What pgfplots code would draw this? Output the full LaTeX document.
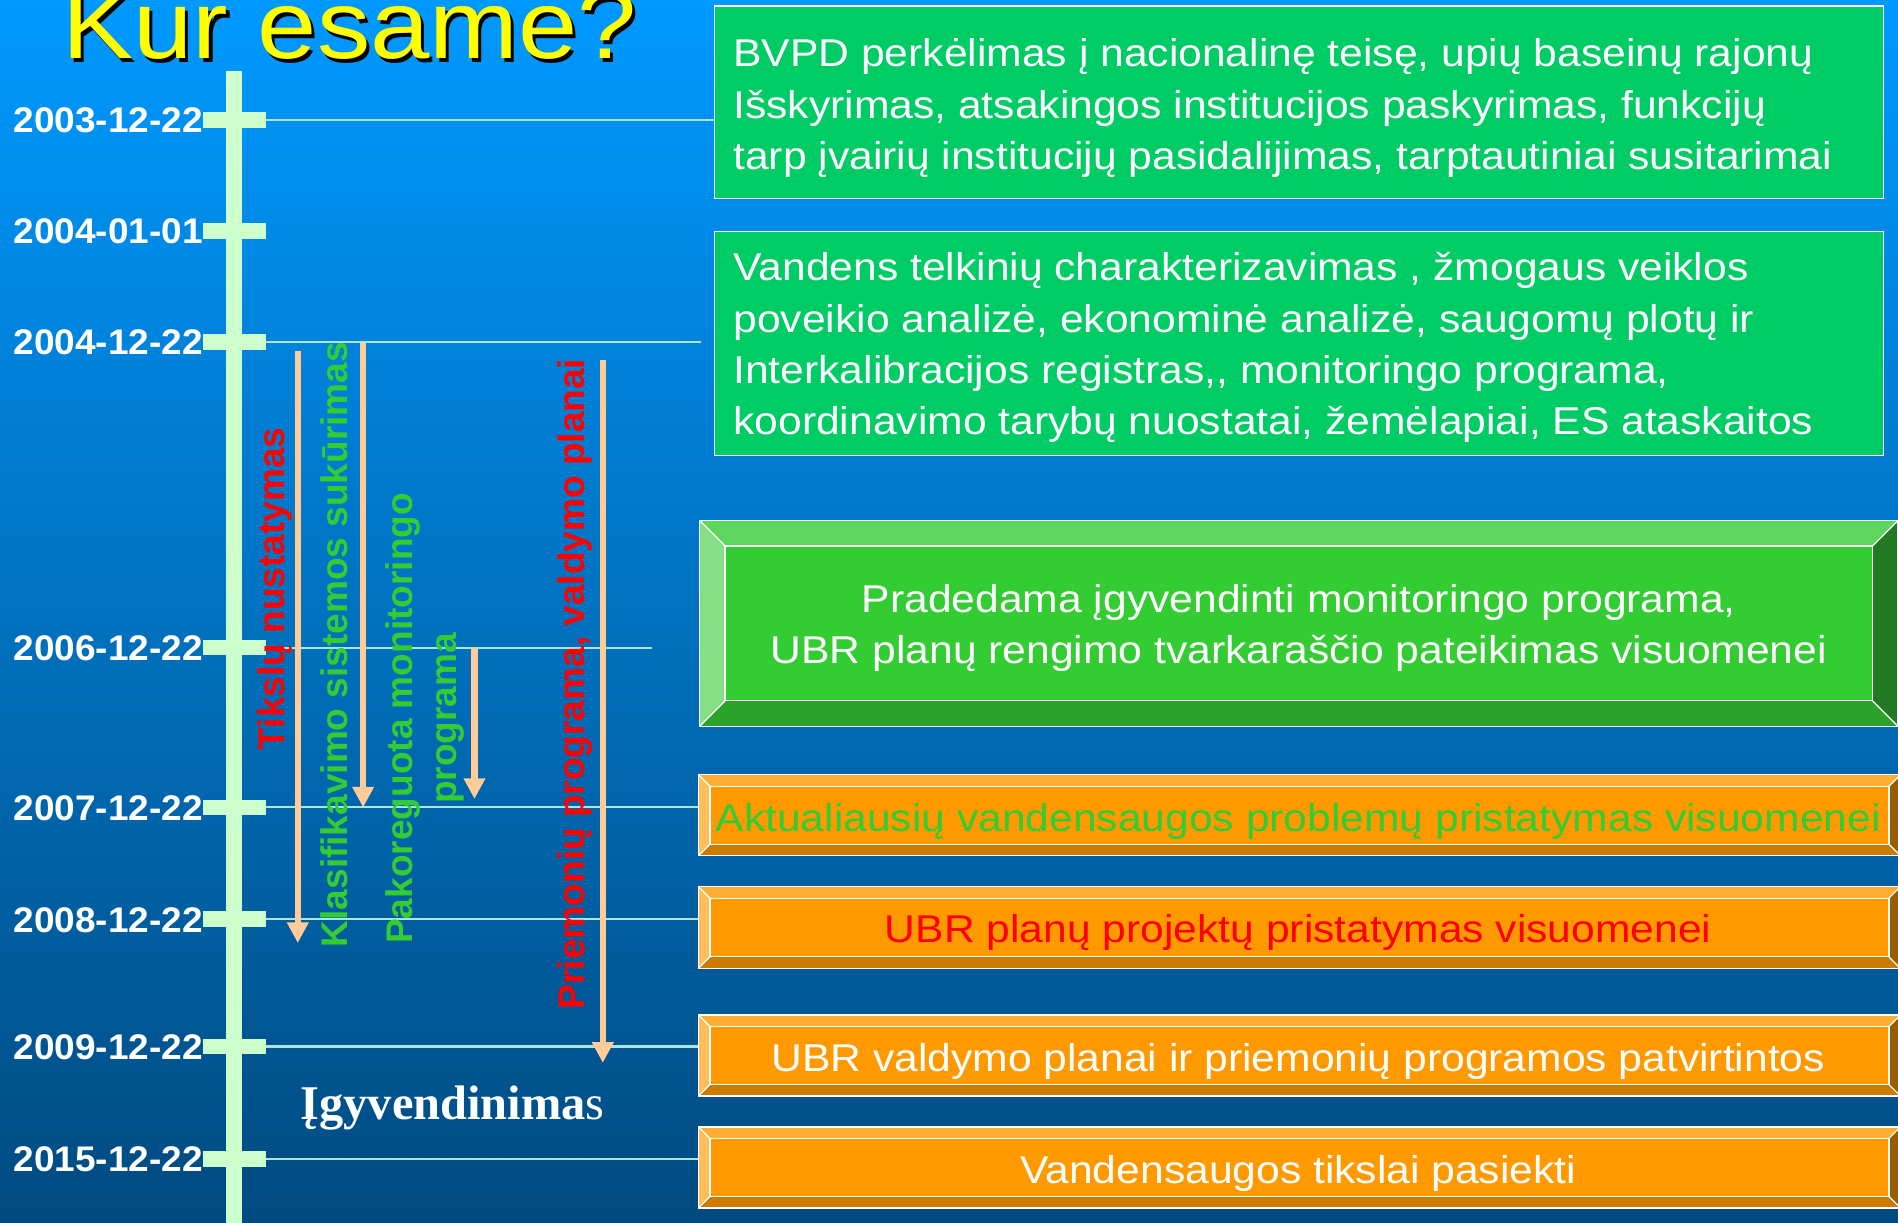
\documentclass[border=0pt]{standalone}
\usepackage{fontspec}
\setmainfont{Liberation Sans}
\newfontfamily\seriffont{Liberation Serif}
\usepackage{graphicx}
\usepackage{pgfplots}
\pgfplotsset{compat=1.18}
\usetikzlibrary{arrows.meta}
\definecolor{bgtop}{RGB}{0,153,255}
\definecolor{bgbot}{RGB}{0,74,128}
\definecolor{tickg}{RGB}{204,255,204}
\definecolor{peach}{RGB}{255,204,153}
\definecolor{linec}{RGB}{170,230,220}
\definecolor{boxg}{RGB}{0,204,102}
\definecolor{grn}{RGB}{51,204,51}
\definecolor{grnt}{RGB}{92,214,92}
\definecolor{grnl}{RGB}{133,224,133}
\definecolor{grnb}{RGB}{43,163,43}
\definecolor{grnr}{RGB}{33,122,33}
\definecolor{org}{RGB}{255,153,0}
\definecolor{orgt}{RGB}{255,173,51}
\definecolor{orgl}{RGB}{255,190,90}
\definecolor{orgb}{RGB}{204,122,0}
\definecolor{orgr}{RGB}{153,92,0}
\definecolor{txtgreen}{RGB}{51,204,51}
\definecolor{txtred}{RGB}{255,0,0}
\definecolor{titley}{RGB}{255,255,0}
\newcommand{\sx}[1]{\scalebox{1.1}[1]{#1}}
\newcommand{\datefont}{\fontsize{14.7}{17}\selectfont\bfseries}
\newcommand{\boxfont}{\fontsize{16}{20}\selectfont}
\newcommand{\rotfont}{\fontsize{15.3}{18}\selectfont\bfseries}
\newcommand{\titlefont}{\fontsize{40}{48}\selectfont}
\newcommand{\bevelbox}[9]{%
 \fill[#9] (#5,#6) rectangle (#7,#8);
 \fill[#9t] (#1,#2) -- (#3,#2) -- (#7,#6) -- (#5,#6) -- cycle;
 \fill[#9b] (#1,#4) -- (#3,#4) -- (#7,#8) -- (#5,#8) -- cycle;
 \fill[#9l] (#1,#2) -- (#5,#6) -- (#5,#8) -- (#1,#4) -- cycle;
 \fill[#9r] (#3,#2) -- (#7,#6) -- (#7,#8) -- (#3,#4) -- cycle;
 \draw[white, line width=0.5pt] (#1,#2) rectangle (#3,#4);
 \draw[white, line width=0.5pt] (#5,#6) rectangle (#7,#8);
 \draw[white, line width=0.5pt] (#1,#2) -- (#5,#6) (#3,#2) -- (#7,#6) (#1,#4) -- (#5,#8) (#3,#4) -- (#7,#8);
}
\begin{document}
\begin{tikzpicture}
\begin{axis}[
  width=784pt, height=505pt, scale only axis,
  xmin=0, xmax=1568, ymin=0, ymax=1010, y dir=reverse,
  hide axis, clip=true, clip bounding box=upper bound,
]
% background
\fill[top color=bgtop, bottom color=bgbot] (0,0) rectangle (1568,1010);

% connector lines
\addplot[linec, line width=0.9pt] coordinates {(220,99) (590,99)};
\addplot[linec, line width=0.9pt] coordinates {(220,282.5) (579,282.5)};
\addplot[linec, line width=0.9pt] coordinates {(220,535) (538.5,535)};
\addplot[linec, line width=0.9pt] coordinates {(220,667) (577,667)};
\addplot[linec, line width=0.9pt] coordinates {(220,759.5) (577,759.5)};
\addplot[linec, line width=0.9pt] coordinates {(220,864.5) (577,864.5)};
\addplot[linec, line width=0.9pt] coordinates {(220,957.5) (577,957.5)};

% timeline bar and ticks
\addplot[tickg, line width=6.65pt] coordinates {(193.6,58.7) (193.6,1015)};
\addplot[tickg, line width=6.5pt] coordinates {(168,99) (220,99)};
\addplot[tickg, line width=6.5pt] coordinates {(168,191) (220,191)};
\addplot[tickg, line width=6.5pt] coordinates {(168,282.5) (220,282.5)};
\addplot[tickg, line width=6.5pt] coordinates {(168,535) (220,535)};
\addplot[tickg, line width=6.5pt] coordinates {(168,667) (220,667)};
\addplot[tickg, line width=6.5pt] coordinates {(168,759.5) (220,759.5)};
\addplot[tickg, line width=6.5pt] coordinates {(168,864.5) (220,864.5)};
\addplot[tickg, line width=6.5pt] coordinates {(168,957.5) (220,957.5)};

% date labels
\node[anchor=base east, inner sep=0, white, font=\datefont] at (168,109.5) {\scalebox{1.04}[1]{2003-12-22}};
\node[anchor=base east, inner sep=0, white, font=\datefont] at (168,201.5) {\scalebox{1.04}[1]{2004-01-01}};
\node[anchor=base east, inner sep=0, white, font=\datefont] at (168,293) {\scalebox{1.04}[1]{2004-12-22}};
\node[anchor=base east, inner sep=0, white, font=\datefont] at (168,545.5) {\scalebox{1.04}[1]{2006-12-22}};
\node[anchor=base east, inner sep=0, white, font=\datefont] at (168,677.5) {\scalebox{1.04}[1]{2007-12-22}};
\node[anchor=base east, inner sep=0, white, font=\datefont] at (168,770) {\scalebox{1.04}[1]{2008-12-22}};
\node[anchor=base east, inner sep=0, white, font=\datefont] at (168,875) {\scalebox{1.04}[1]{2009-12-22}};
\node[anchor=base east, inner sep=0, white, font=\datefont] at (168,968) {\scalebox{1.04}[1]{2015-12-22}};

% plain green boxes
\filldraw[fill=boxg, draw=white, line width=0.5pt] (590,5) rectangle (1556,164);
\filldraw[fill=boxg, draw=white, line width=0.5pt] (590,191) rectangle (1556,376);
\node[anchor=base west, inner sep=0, white, font=\boxfont] at (605.5,55) {\sx{BVPD perkėlimas į nacionalinę teisę, upių baseinų rajonų}};
\node[anchor=base west, inner sep=0, white, font=\boxfont] at (605.5,97.5) {\sx{Išskyrimas, atsakingos institucijos paskyrimas, funkcijų}};
\node[anchor=base west, inner sep=0, white, font=\boxfont] at (605.5,140) {\sx{tarp įvairių institucijų pasidalijimas, tarptautiniai susitarimai}};
\node[anchor=base west, inner sep=0, white, font=\boxfont] at (605.5,232) {\sx{Vandens telkinių charakterizavimas , žmogaus veiklos}};
\node[anchor=base west, inner sep=0, white, font=\boxfont] at (605.5,274.5) {\sx{poveikio analizė, ekonominė analizė, saugomų plotų ir}};
\node[anchor=base west, inner sep=0, white, font=\boxfont] at (605.5,317) {\sx{Interkalibracijos registras,{},{} monitoringo programa,}};
\node[anchor=base west, inner sep=0, white, font=\boxfont] at (605.5,359) {\sx{koordinavimo tarybų nuostatai, žemėlapiai, ES ataskaitos}};

% bevelled boxes
\bevelbox{578}{430}{1568}{600}{599}{451}{1547}{579}{grn}
\bevelbox{577}{640}{1570}{707}{586.5}{649.5}{1560.5}{697.5}{org}
\bevelbox{577}{732.5}{1570}{800}{586.5}{742}{1560.5}{790.5}{org}
\bevelbox{577}{838.5}{1570}{905.5}{586.5}{848}{1560.5}{896}{org}
\bevelbox{577}{931}{1570}{998}{586.5}{940.5}{1560.5}{988.5}{org}
\node[anchor=base, inner sep=0, white, font=\boxfont] at (1073,506) {\sx{Pradedama įgyvendinti monitoringo programa,}};
\node[anchor=base, inner sep=0, white, font=\boxfont] at (1073,548) {\sx{UBR planų rengimo tvarkaraščio pateikimas visuomenei}};
\node[anchor=base, inner sep=0, txtgreen, font=\boxfont] at (1072.5,687) {\sx{Aktualiausių vandensaugos problemų pristatymas visuomenei}};
\node[anchor=base, inner sep=0, txtred, font=\boxfont] at (1072.5,779) {\sx{UBR planų projektų pristatymas visuomenei}};
\node[anchor=base, inner sep=0, white, font=\boxfont] at (1072.5,885) {\sx{UBR valdymo planai ir priemonių programos patvirtintos}};
\node[anchor=base, inner sep=0, white, font=\boxfont] at (1072.5,977.5) {\sx{Vandensaugos tikslai pasiekti}};

% vertical labels
\node[rotate=90, anchor=base, inner sep=0, txtred, font=\rotfont] at (235,486.5) {Tikslų nustatymas};
\node[rotate=90, anchor=base, inner sep=0, txtgreen, font=\rotfont] at (287,532.5) {Klasifikavimo sistemos sukūrimas};
\node[rotate=90, anchor=base, inner sep=0, txtgreen, font=\rotfont] at (341,593.5) {Pakoreguota monitoringo};
\node[rotate=90, anchor=base, inner sep=0, txtgreen, font=\rotfont] at (377,593.5) {programa};
\node[rotate=90, anchor=base, inner sep=0, txtred, font=\rotfont] at (483,565) {Priemonių programa, valdymo planai};

% arrows
\addplot[peach, line width=2.5pt, -{Triangle[width=8.5pt,length=8.5pt]}] coordinates {(246,290) (246,779)};
\addplot[peach, line width=2.5pt, -{Triangle[width=8.5pt,length=8.5pt]}] coordinates {(300,283) (300,667)};
\addplot[peach, line width=2.5pt, -{Triangle[width=8.5pt,length=8.5pt]}] coordinates {(392,535) (392,660)};
\addplot[peach, line width=2.5pt, -{Triangle[width=8.5pt,length=8.5pt]}] coordinates {(498,297) (498,878)};

% implementation label
\node[anchor=base west, inner sep=0, white, font=\fontsize{20}{24}\selectfont\seriffont] at (248,925) {{\bfseries Įgyvendinima}s};

% title
\node[anchor=base west, inner sep=0, black, font=\titlefont] at (53.9,51.3) {\sx{Kur esame?}};
\node[anchor=base west, inner sep=0, titley, font=\titlefont] at (51.4,48) {\sx{Kur esame?}};
\end{axis}
\end{tikzpicture}
\end{document}
